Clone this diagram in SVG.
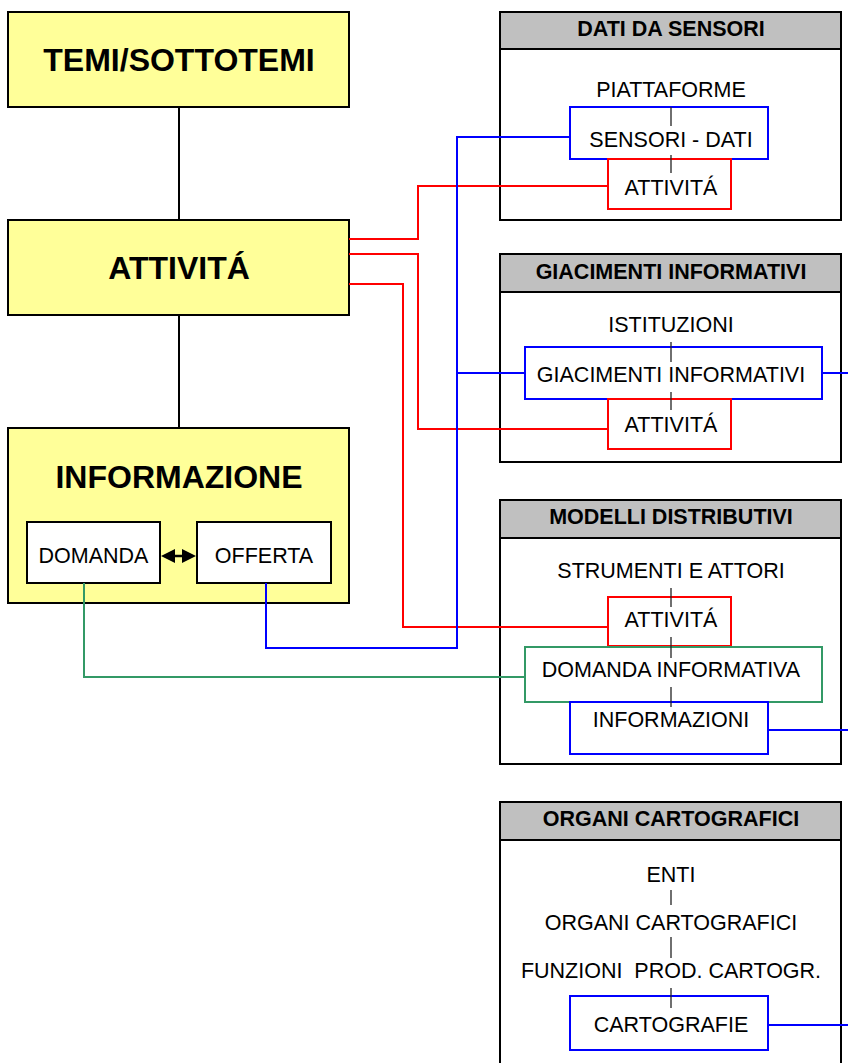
<svg xmlns="http://www.w3.org/2000/svg" width="848" height="1063" viewBox="0 0 848 1063">
<style>
.big{font-family:"Liberation Sans",Arial,sans-serif;font-weight:bold;font-size:32px;fill:#000;text-anchor:middle}
.hd{font-family:"Liberation Sans",Arial,sans-serif;font-weight:bold;font-size:21.5px;fill:#000;text-anchor:middle}
.tx{font-family:"Liberation Sans",Arial,sans-serif;font-size:21.5px;fill:#000;text-anchor:middle;white-space:pre}
.yel{fill:#ffff99;stroke:#000;stroke-width:2}
.wb{fill:#fff;stroke:#000;stroke-width:2}
.panel{fill:#fff;stroke:#000;stroke-width:2}
.head{fill:#c0c0c0;stroke:#000;stroke-width:2}
.r{fill:none;stroke:#ff0000;stroke-width:2}
.b{fill:none;stroke:#0000ff;stroke-width:2}
.g{fill:none;stroke:#339966;stroke-width:2}
.tick{stroke:#222;stroke-width:1.3}
.k{stroke:#000;stroke-width:2;fill:none}
</style>

<g id="link-temi-attivita"><line class="k" x1="179" y1="107" x2="179" y2="220"/><line class="k" x1="179" y1="315" x2="179" y2="428"/></g>

<g id="temi"><rect class="yel" x="8" y="12" width="341" height="95"/><text class="big" x="179" y="71">TEMI/SOTTOTEMI</text></g>
<g id="attivita"><rect class="yel" x="8" y="220" width="341" height="95"/><text class="big" x="179" y="279">ATTIVITÁ</text></g>
<g id="informazione"><rect class="yel" x="8" y="428" width="341" height="175"/><text class="big" x="179" y="488">INFORMAZIONE</text>
<g id="domanda"><rect class="wb" x="27" y="522" width="133" height="61"/><text class="tx" x="93.5" y="563">DOMANDA</text></g>
<g id="offerta"><rect class="wb" x="197" y="522" width="134" height="61"/><text class="tx" x="264" y="563">OFFERTA</text></g>
<g id="arrow-domanda-offerta">
<line x1="172" y1="556" x2="185" y2="556" stroke="#000" stroke-width="2.5"/>
<polygon points="161,556 175,549 175,563" fill="#000"/>
<polygon points="196,556 182,549 182,563" fill="#000"/>
</g>
</g>

<g id="panel-dati">
<rect class="panel" x="500" y="12" width="341" height="208"/>
<rect class="head" x="500" y="12" width="341" height="37"/>
<text class="hd" x="671" y="36">DATI DA SENSORI</text>
<text class="tx" x="671" y="97">PIATTAFORME</text>
<rect class="b" x="570" y="107" width="198" height="52" fill="#fff"/>
<text class="tx" x="671" y="147">SENSORI - DATI</text>
<rect class="r" x="608" y="159" width="123" height="50"/>
<text class="tx" x="671" y="195">ATTIVITÁ</text>
<line class="tick" x1="671" y1="107" x2="671" y2="126"/>
<line class="tick" x1="671" y1="155" x2="671" y2="173"/>
</g>

<g id="panel-giacimenti">
<rect class="panel" x="500" y="254" width="341" height="208"/>
<rect class="head" x="500" y="254" width="341" height="38"/>
<text class="hd" x="671" y="279">GIACIMENTI INFORMATIVI</text>
<text class="tx" x="671" y="332">ISTITUZIONI</text>
<rect class="b" x="525" y="347" width="297" height="52"/>
<text class="tx" x="671" y="382">GIACIMENTI INFORMATIVI</text>
<rect class="r" x="608" y="399" width="123" height="50"/>
<text class="tx" x="671" y="432">ATTIVITÁ</text>
<line class="tick" x1="671" y1="342" x2="671" y2="362"/>
<line class="tick" x1="671" y1="392" x2="671" y2="410"/>
</g>

<g id="panel-modelli">
<rect class="panel" x="500" y="500" width="341" height="264"/>
<rect class="head" x="500" y="500" width="341" height="38"/>
<text class="hd" x="671" y="524">MODELLI DISTRIBUTIVI</text>
<text class="tx" x="671" y="578">STRUMENTI E ATTORI</text>
<rect class="r" x="608" y="597" width="123" height="49"/>
<text class="tx" x="671" y="627">ATTIVITÁ</text>
<rect class="g" x="525" y="647" width="297" height="55"/>
<text class="tx" x="671" y="677">DOMANDA INFORMATIVA</text>
<rect class="b" x="570" y="702" width="198" height="52"/>
<text class="tx" x="671" y="727">INFORMAZIONI</text>
<line class="tick" x1="671" y1="588" x2="671" y2="607"/>
<line class="tick" x1="671" y1="637" x2="671" y2="658"/>
<line class="tick" x1="671" y1="687" x2="671" y2="707"/>
</g>

<g id="panel-organi">
<rect class="panel" x="500" y="802" width="341" height="275"/>
<rect class="head" x="500" y="802" width="341" height="38"/>
<text class="hd" x="671" y="826">ORGANI CARTOGRAFICI</text>
<text class="tx" x="671" y="882">ENTI</text>
<text class="tx" x="671" y="930">ORGANI CARTOGRAFICI</text>
<text class="tx" x="671" y="978">FUNZIONI  PROD. CARTOGR.</text>
<rect class="b" x="570" y="996" width="198" height="54"/>
<text class="tx" x="671" y="1032">CARTOGRAFIE</text>
<line class="tick" x1="671" y1="890" x2="671" y2="905"/>
<line class="tick" x1="671" y1="937" x2="671" y2="958"/>
<line class="tick" x1="671" y1="988" x2="671" y2="1008"/>
</g>

<g id="connectors">
<polyline class="r" points="349,239 418,239 418,186 608,186"/>
<polyline class="r" points="349,254 418,254 418,429 608,429"/>
<polyline class="r" points="349,284 403,284 403,627 608,627"/>
<polyline class="b" points="266,583 266,648 457,648 457,137 570,137"/>
<polyline class="b" points="457,373 525,373"/>
<polyline class="g" points="84,583 84,677 525,677"/>
<polyline class="b" points="822,373 848,373"/>
<polyline class="b" points="768,730 848,730"/>
<polyline class="b" points="768,1025 848,1025"/>
</g>
</svg>
